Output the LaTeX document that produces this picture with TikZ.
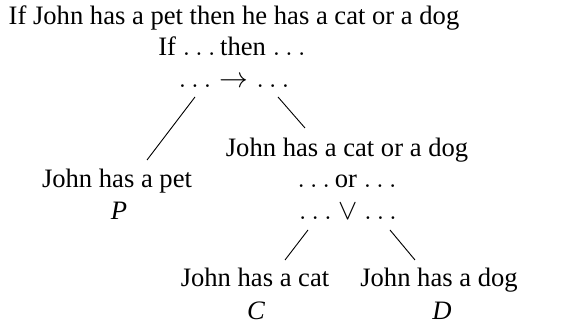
\documentclass[tikz,border=0pt]{standalone}
\usepackage{fontspec}
\setmainfont{Liberation Serif}
\begin{document}
\begin{tikzpicture}[x=0.5pt,y=-0.5pt,
  txt/.style={anchor=base,inner sep=0pt,font=\fontsize{13.3}{16.5}\selectfont},
  edge/.style={line width=0.45pt,draw=black}]
\useasboundingbox (0,0) rectangle (569,326);
% root
\node[txt] (t1) at (234,25) {If John has a pet then he has a cat or a dog};
\node[txt] (t2) at (232,56) {If $\ldots$\,then $\ldots$};
\node[txt] (root) at (234,88) {$\ldots\rightarrow\ldots$};
% left child
\node[txt] (pet) at (117,188) {John has a pet};
\node[txt] (P) at (119,220) {\textit{P}};
% right child
\node[txt] (cd1) at (347,157) {John has a cat or a dog};
\node[txt] (cd2) at (347,188) {$\ldots$\,or $\ldots$};
\node[txt] (or) at (348,220) {$\ldots\vee\ldots$};
% leaves
\node[txt] (cat) at (255,287) {John has a cat};
\node[txt] (C) at (256,320) {\textit{C}};
\node[txt] (dog) at (439,287) {John has a dog};
\node[txt] (D) at (442,320) {\textit{D}};
% edges
\draw[edge] ([shift={(-39,9)}]root.base) -- ([shift={(30,-28)}]pet.base);
\draw[edge] ([shift={(44,9)}]root.base) -- ([shift={(-42,-29)}]cd1.base);
\draw[edge] ([shift={(-40,10)}]or.base) -- ([shift={(30,-27)}]cat.base);
\draw[edge] ([shift={(42,10)}]or.base) -- ([shift={(-24,-27)}]dog.base);
\end{tikzpicture}
\end{document}
